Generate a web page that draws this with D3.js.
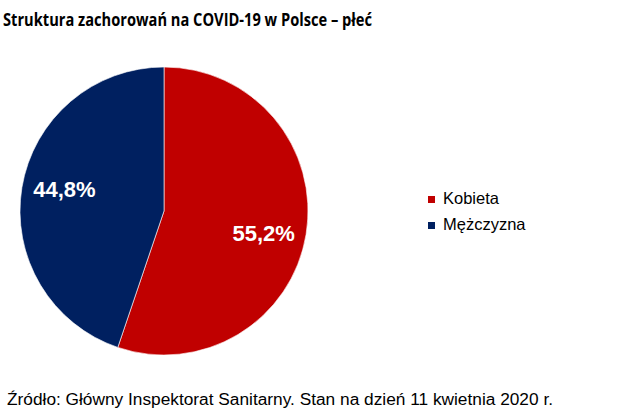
<!DOCTYPE html>
<html lang="pl">
<head>
  <meta charset="UTF-8">
  <title>Struktura zachorowań na COVID-19 w Polsce – płeć</title>
  <script src="https://d3js.org/d3.v7.min.js"></script>
  <style>
    body { margin: 0; background: #fff; }
    text { font-family: "Liberation Sans", Arial, sans-serif; }
  </style>
</head>
<body>
  <div id="chart"></div>

  <script>
    // data
    const categories = ["Kobieta", "Mężczyzna"];
    const shares = [55.2, 44.8];
    const colors = ["#c00000", "#002060"];

    const title = "Struktura zachorowań na COVID-19 w Polsce – płeć";
    const source = "Źródło: Główny Inspektorat Sanitarny. Stan na dzień 11 kwietnia 2020 r.";

    const width = 620, height = 413;
    const cx = 164, cy = 211, radius = 144;

    const svg = d3.select("#chart")
      .append("svg")
      .attr("width", width)
      .attr("height", height);

    // title
    svg.append("text")
      .attr("x", 3)
      .attr("y", 26)
      .attr("textLength", 369)
      .attr("lengthAdjust", "spacingAndGlyphs")
      .style("font-family", "'Open Sans', sans-serif")
      .style("font-weight", "bold")
      .style("font-size", "17px")
      .attr("fill", "#000")
      .text(title);

    const data = categories.map((c, i) => ({ name: c, value: shares[i], color: colors[i] }));

    const pie = d3.pie()
      .sort(null)
      .value(d => d.value);

    const arc = d3.arc().innerRadius(0).outerRadius(radius);

    const g = svg.append("g")
      .attr("transform", "translate(" + cx + "," + cy + ")");

    const arcs = pie(data);

    g.selectAll("path")
      .data(arcs)
      .enter().append("path")
        .attr("d", arc)
        .attr("fill", d => d.data.color)
        .attr("stroke", "#fff")
        .attr("stroke-width", 0.6);

    // labels sit a bit past the middle angle, like Excel does it
    const labelR = 102, shift = 3 * Math.PI / 180;
    g.selectAll(".lbl")
      .data(arcs)
      .enter().append("text")
        .attr("class", "lbl")
        .attr("x", d => labelR * Math.sin((d.startAngle + d.endAngle) / 2 + shift))
        .attr("y", d => -labelR * Math.cos((d.startAngle + d.endAngle) / 2 + shift))
        .attr("dy", "0.36em")
        .attr("text-anchor", "middle")
        .attr("fill", "#fff")
        .style("font-weight", "bold")
        .style("font-size", "22px")
        .text(d => d.data.value.toFixed(1).replace(".", ",") + "%");

    // legend
    const legend = svg.append("g")
      .attr("transform", "translate(428,196)");

    const item = legend.selectAll("g")
      .data(data)
      .enter().append("g")
        .attr("transform", (d, i) => "translate(0," + i * 26 + ")");

    item.append("rect")
      .attr("width", 7)
      .attr("height", 7)
      .attr("fill", d => d.color);

    item.append("text")
      .attr("x", 15)
      .attr("y", 8)
      .attr("fill", "#000")
      .style("font-size", "16.5px")
      .text(d => d.name);

    // source
    svg.append("text")
      .attr("x", 7)
      .attr("y", 405)
      .attr("textLength", 546)
      .attr("lengthAdjust", "spacingAndGlyphs")
      .attr("fill", "#000")
      .style("font-size", "16px")
      .text(source);
  </script>
</body>
</html>
